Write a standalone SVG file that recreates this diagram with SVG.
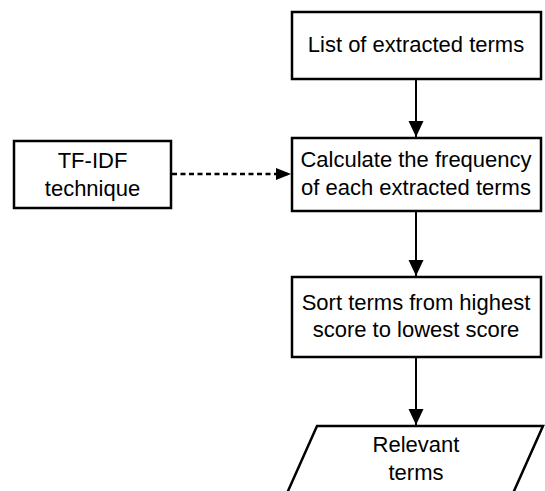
<svg xmlns="http://www.w3.org/2000/svg" width="545" height="491" viewBox="0 0 545 491">
<style>
.box{fill:#fff;stroke:#000;stroke-width:2.5}
.t{font-family:"Liberation Sans",Arial,sans-serif;font-size:22px;fill:#000;text-anchor:middle}
.ln{stroke:#000;stroke-width:2;fill:none}
.dash{stroke:#000;stroke-width:2.5;fill:none;stroke-dasharray:5 3.5}
</style>
<defs>
<marker id="ah" markerUnits="userSpaceOnUse" markerWidth="16" markerHeight="16" refX="16" refY="8" orient="auto">
<path d="M0,0.5 L16,8 L0,15.5 Z" fill="#000"/>
</marker>
<marker id="ah2" markerUnits="userSpaceOnUse" markerWidth="15" markerHeight="13" refX="15" refY="6.5" orient="auto">
<path d="M0,0.5 L15,6.5 L0,12.5 Z" fill="#000"/>
</marker>
</defs>
<g id="connectors">
<line class="ln" x1="416" y1="79" x2="416" y2="137" marker-end="url(#ah)"/>
<line class="ln" x1="416" y1="211" x2="416" y2="276" marker-end="url(#ah)"/>
<line class="ln" x1="416" y1="357" x2="416" y2="425" marker-end="url(#ah)"/>
<line class="dash" x1="172" y1="174" x2="291" y2="174" marker-end="url(#ah2)"/>
</g>
<g id="n1">
<rect class="box" x="292" y="12" width="249" height="67"/>
<text class="t" x="416" y="52">List of extracted terms</text>
</g>
<g id="n2">
<rect class="box" x="292" y="138" width="249" height="73"/>
<text class="t" x="416" y="167">Calculate the frequency</text>
<text class="t" x="416" y="195">of each extracted terms</text>
</g>
<g id="tfidf">
<rect class="box" x="14" y="141" width="157" height="67"/>
<text class="t" x="92.5" y="168">TF-IDF</text>
<text class="t" x="92.5" y="196">technique</text>
</g>
<g id="n3">
<rect class="box" x="292" y="277" width="249" height="80"/>
<text class="t" x="416" y="310">Sort terms from highest</text>
<text class="t" x="416" y="337">score to lowest score</text>
</g>
<g id="n4">
<polygon class="box" points="317,426 543,426 510,500 284,500"/>
<text class="t" x="416" y="452">Relevant</text>
<text class="t" x="416" y="480">terms</text>
</g>
</svg>
